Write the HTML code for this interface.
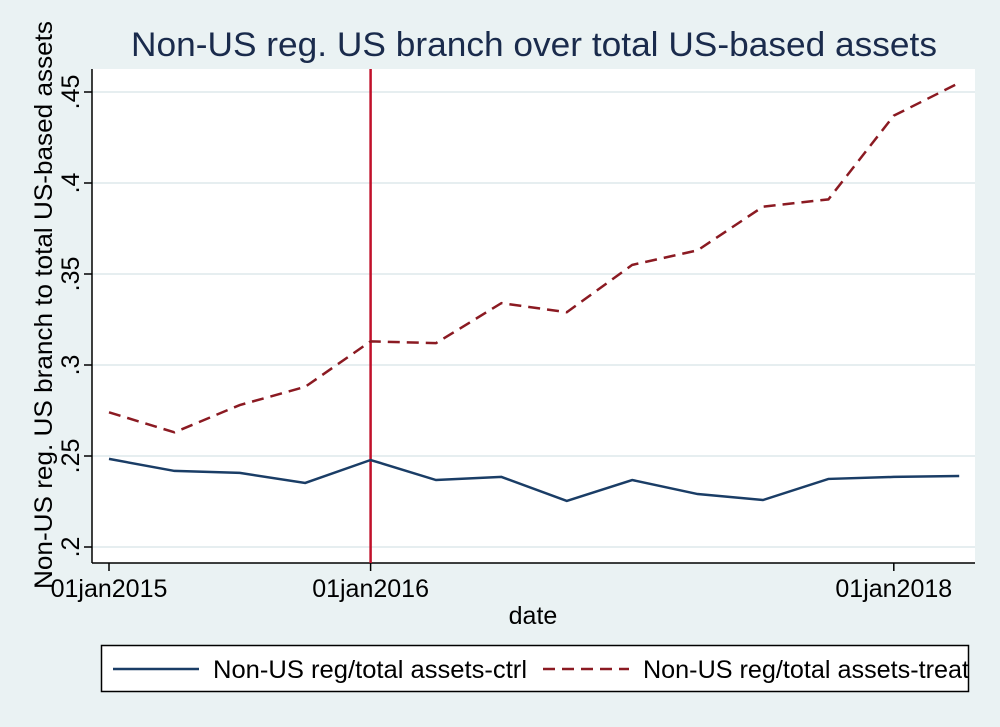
<!DOCTYPE html>
<html><head><meta charset="utf-8"><style>
body{margin:0;background:#eaf2f3;}
svg{display:block;font-family:"Liberation Sans",sans-serif;}
</style></head><body>
<svg id="chart" width="1000" height="727">
<rect x="0" y="0" width="1000" height="727" fill="#eaf2f3"/>
<text x="534" y="56" text-anchor="middle" font-size="34" fill="#1a2b4c" textLength="806" lengthAdjust="spacingAndGlyphs">Non-US reg. US branch over total US-based assets</text>
<rect x="92" y="69" width="883" height="494" fill="#fff"/>
<g id="grid"></g>
<g id="axes"></g>
<g id="series"></g>
<text x="533" y="624" text-anchor="middle" font-size="25" fill="#000">date</text>
<text transform="translate(52,305) rotate(-90)" text-anchor="middle" font-size="25" fill="#000" textLength="568" lengthAdjust="spacingAndGlyphs">Non-US reg. US branch to total US-based assets</text>
<g>
<rect x="101.5" y="645.5" width="867" height="46" fill="#fff" stroke="#000" stroke-width="1.5"/>
<line x1="113" y1="669" x2="199" y2="669" stroke="#1a3d66" stroke-width="2.5"/>
<text x="213" y="678" font-size="25" textLength="314" lengthAdjust="spacingAndGlyphs">Non-US reg/total assets-ctrl</text>
<line x1="543" y1="669" x2="629" y2="669" stroke="#8b1a22" stroke-width="2.5" stroke-dasharray="12,7"/>
<text x="643" y="678" font-size="25" textLength="326" lengthAdjust="spacingAndGlyphs">Non-US reg/total assets-treat</text>
</g>
</svg>
<script>
const quarters=[0,1,2,3,4,5,6,7,8,9,10,11,12,13];
const ctrlValues=[0.2484,0.2418,0.2407,0.2352,0.2478,0.2368,0.2385,0.2253,0.2368,0.2291,0.2258,0.2374,0.2385,0.239];
const treatValues=[0.274,0.263,0.278,0.288,0.313,0.312,0.334,0.329,0.355,0.363,0.387,0.391,0.437,0.455];
const yTicks=[0.2,0.25,0.3,0.35,0.4,0.45];
const yTickLabels=[".2",".25",".3",".35",".4",".45"];
const xTicks=[0,4,12];
const xTickLabels=["01jan2015","01jan2016","01jan2018"];
const eventQuarter=4;
const NS="http://www.w3.org/2000/svg";
function xs(q){return 109+q*65.4;}
function ys(v){return 547-(v-0.2)*1820;}
function mk(tag,attrs,parent){const e=document.createElementNS(NS,tag);for(const k in attrs)e.setAttribute(k,attrs[k]);parent.appendChild(e);return e;}
const grid=document.getElementById('grid'),axes=document.getElementById('axes'),series=document.getElementById('series');
yTicks.forEach((t,i)=>{
 const g=mk('line',{x1:92,x2:975,y1:ys(t),y2:ys(t),stroke:'#e6eef0','stroke-width':2},grid);
 
 
 const tk=mk('line',{x1:84,x2:92,y1:ys(t),y2:ys(t),stroke:'#000','stroke-width':1.5},axes);
 
 
 const tx=mk('text',{transform:`translate(79,${ys(t)}) rotate(-90)`,'text-anchor':'middle','font-size':25},axes);
 tx.textContent=yTickLabels[i];
 
 
});
const ya=mk('line',{x1:92,x2:92,y1:69,y2:563,stroke:'#000','stroke-width':1.5},axes);


const xa=mk('line',{x1:92,x2:975,y1:563,y2:563,stroke:'#000','stroke-width':1.5},axes);


xTicks.forEach((q,i)=>{
 const tk=mk('line',{x1:xs(q),x2:xs(q),y1:563,y2:571,stroke:'#000','stroke-width':1.5},axes);
 
 
 const tx=mk('text',{x:xs(q),y:597,'text-anchor':'middle','font-size':25},axes);
 tx.textContent=xTickLabels[i];
 
 
});
const ev=mk('line',{x1:xs(eventQuarter),x2:xs(eventQuarter),y1:69,y2:563,stroke:'#c0102a','stroke-width':2.5},series);


const cp=mk('polyline',{points:quarters.map((q,i)=>xs(q)+','+ys(ctrlValues[i])).join(' '),fill:'none',stroke:'#1a3d66','stroke-width':2.5},series);


const tp=mk('polyline',{points:quarters.map((q,i)=>xs(q)+','+ys(treatValues[i])).join(' '),fill:'none',stroke:'#8b1a22','stroke-width':2.5,'stroke-dasharray':'12,7'},series);


</script>
</body></html>
